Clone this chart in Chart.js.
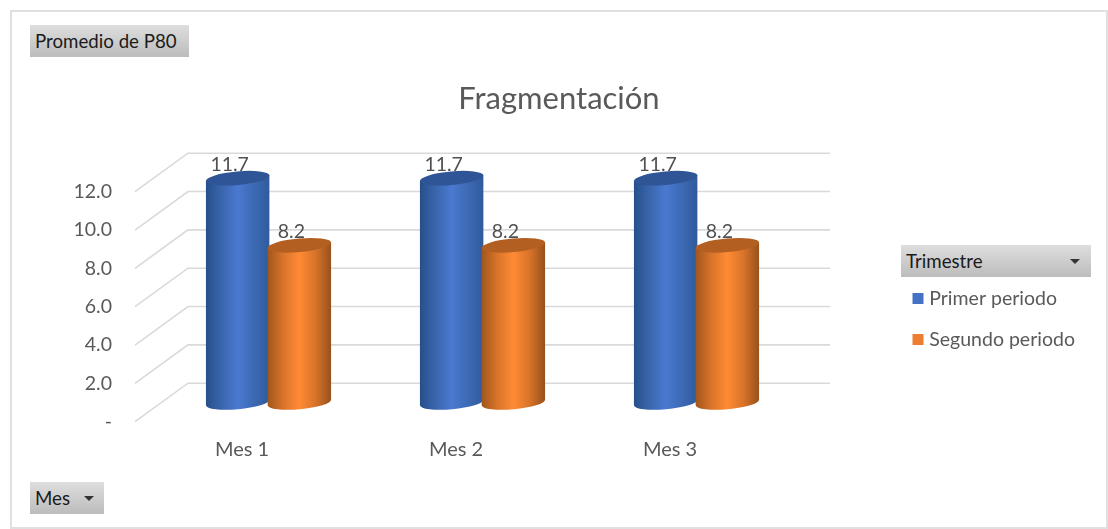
<!DOCTYPE html>
<html><head><meta charset="utf-8">
<script src="https://cdn.jsdelivr.net/npm/chart.js@4"></script>
<style>
html,body{margin:0;padding:0;background:#fff;overflow:hidden}
#wrap{position:relative;width:1108px;height:529px}
#frame{position:absolute;left:10px;top:10px;width:1094px;height:515px;border:2px solid #e0e0e0;box-sizing:content-box}
canvas{position:absolute;left:0;top:0}
.btn{position:absolute;background:linear-gradient(#dedede,#bcbcbc);color:#1a1a1a;font:18.7px Lato,sans-serif;line-height:32px;height:32px;box-sizing:border-box;padding-left:5px;white-space:pre}
.arr{position:absolute;width:0;height:0;border-left:5px solid transparent;border-right:5px solid transparent;border-top:5px solid #333;top:14px}
</style></head><body>
<div id="wrap">
<div id="frame"></div>
<canvas id="c" width="1108" height="529" style="width:1108px;height:529px"></canvas>
<div class="btn" style="left:30px;top:25px;width:159px">Promedio de P80</div>
<div class="btn" style="left:901px;top:245px;width:190px">Trimestre<span class="arr" style="right:11px"></span></div>
<div class="btn" style="left:30px;top:482px;width:74px">Mes<span class="arr" style="right:10px"></span></div>
</div>
<script>
const categories = ['Mes 1', 'Mes 2', 'Mes 3'];
const primerPeriodo = [11.7, 11.7, 11.7];
const segundoPeriodo = [8.2, 8.2, 8.2];
const seriesNames = ['Primer periodo', 'Segundo periodo'];
const yTicks = [0, 2, 4, 6, 8, 10, 12];

const DEPTH_X = 53, DEPTH_Y = 38.5, TILT = -0.09;
const BAR_STYLES = [
  {cap:'#2f5597', stops:['#264f8a','#3a66ad','#4a79d0','#3d6ab4','#2f5a9c']},
  {cap:'#b35f22', stops:['#a0561c','#d9742a','#ff8a35','#d9742a','#96511b']}
];
const cylinder3D = {
  id:'cylinder3D',
  afterLayout(chart){
    const t = chart.titleBlock;
    t.left = 0; t.right = 1118;
    const l = chart.legend;
    const w = l.width, h = l.height;
    l.left = 895; l.top = 204; l.right = l.left + w; l.bottom = l.top + h;
    l.adjustHitBoxes && l.adjustHitBoxes();
  },
  beforeDatasetsDraw(chart){
    const {ctx, chartArea:a, scales:{y}} = chart;
    ctx.save();
    ctx.strokeStyle = '#d9d9d9'; ctx.lineWidth = 1.6;
    yTicks.forEach(v=>{
      const p = y.getPixelForValue(v);
      ctx.beginPath();
      ctx.moveTo(a.left, p);
      ctx.lineTo(a.left + DEPTH_X, p - DEPTH_Y);
      ctx.lineTo(a.right + DEPTH_X, p - DEPTH_Y);
      ctx.stroke();
    });
    chart.data.datasets.forEach((ds,i)=>{
      const st = BAR_STYLES[i];
      chart.getDatasetMeta(i).data.forEach((bar,j)=>{
        const cx = bar.x + DEPTH_X/2 + (i === 0 ? 0.5 : -0.5);
        const topY = bar.y - DEPTH_Y/2;
        const baseY = y.getPixelForValue(0) - DEPTH_Y/2;
        const rx = bar.width/2 + 0.5, ry = 6.8;
        const dx = rx*Math.cos(TILT), dy = rx*Math.sin(TILT);
        ctx.fillStyle = '#505050';
        ctx.font = '19.5px Lato, sans-serif';
        ctx.textAlign = 'center'; ctx.textBaseline = 'middle';
        ctx.fillText(ds.data[j].toFixed(1), cx - 8, topY - 13.5);
        const g = ctx.createLinearGradient(cx-rx,0,cx+rx,0);
        st.stops.forEach((c,k)=>g.addColorStop(k/(st.stops.length-1),c));
        ctx.fillStyle = g;
        ctx.beginPath();
        ctx.moveTo(cx-dx, topY-dy);
        ctx.lineTo(cx-dx, baseY-dy);
        ctx.ellipse(cx, baseY, rx, ry, TILT, Math.PI, 0, true);
        ctx.lineTo(cx+dx, topY+dy);
        ctx.closePath();
        ctx.fill();
        ctx.fillStyle = st.cap;
        ctx.beginPath();
        ctx.ellipse(cx, topY, rx, ry, TILT, 0, Math.PI*2);
        ctx.fill();
      });
    });
    ctx.restore();
    return false;
  }
};

new Chart(document.getElementById('c'), {
  type:'bar',
  data:{
    labels:categories,
    datasets:[
      {label:seriesNames[0], data:primerPeriodo, backgroundColor:'#4472c4', borderColor:'#4472c4', borderWidth:8},
      {label:seriesNames[1], data:segundoPeriodo, backgroundColor:'#ed7d31', borderColor:'#ed7d31', borderWidth:8}
    ]
  },
  options:{
    responsive:false, animation:false,
    layout:{padding:{left:0,right:331,top:0,bottom:0}},
    datasets:{bar:{categoryPercentage:0.586,barPercentage:1}},
    plugins:{
      title:{display:true,text:'Fragmentación',color:'#595959',
        font:{family:'Lato, sans-serif',size:31,weight:'normal'},
        padding:{top:80.4,bottom:74.1}},
      legend:{position:'chartArea',
        labels:{boxWidth:3,boxHeight:3,padding:21.5,color:'#595959',
          font:{family:'Lato, sans-serif',size:19.5}}},
      tooltip:{enabled:false}
    },
    scales:{
      x:{grid:{display:false},border:{display:false},
        afterFit(s){s.height=529-421.7;},
        ticks:{color:'#595959',padding:8,maxRotation:0,font:{family:'Lato, sans-serif',size:20}}},
      y:{min:0,max:12,grid:{display:false},border:{display:false},
        afterFit(s){s.width=135;},
        afterBuildTicks(s){s.ticks=yTicks.map(v=>({value:v}));},
        ticks:{color:'#595959',padding:15,font:{family:'Lato, sans-serif',size:19.5},
          callback(v){return v===0?'-':v.toFixed(1);}}}
    }
  },
  plugins:[cylinder3D]
});
</script>
</body></html>
